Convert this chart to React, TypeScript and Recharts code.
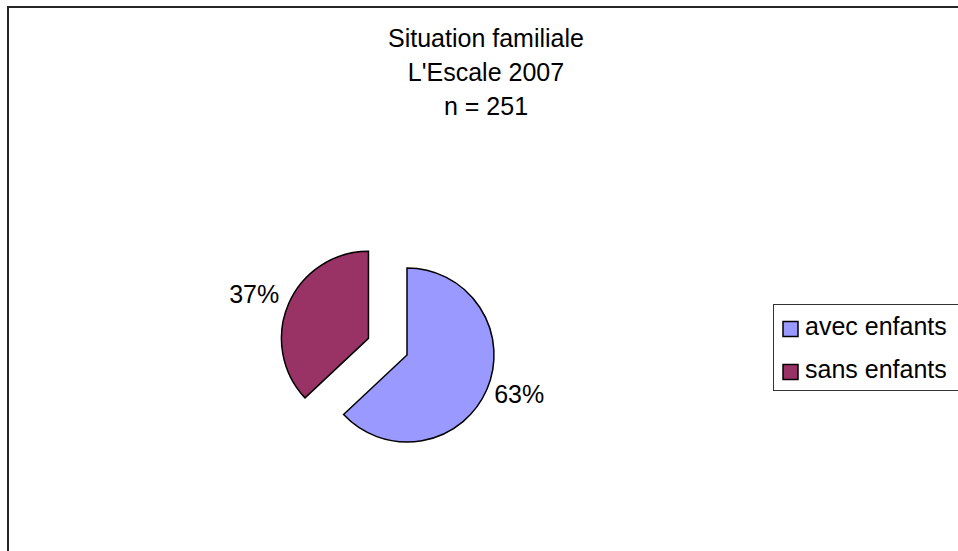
import React from "react";
import { PieChart, Pie, Cell, Legend, Customized } from "recharts";

const categories = ["avec enfants", "sans enfants"];
const values = [63, 37];
const colors = ["#9999FF", "#993366"];
const titleLines = ["Situation familiale", "L'Escale 2007", "n = 251"];

const data = categories.map((name, i) => ({ name, value: values[i] }));

const W = 958;
const H = 551;
const CX = 407;
const CY = 355;
const R = 87;
const EXPLODE = 42;
const FONT = "'Liberation Sans', Arial, sans-serif";
const RADIAN = Math.PI / 180;
const LABEL_NUDGE_Y = [1, -7];
const LABEL_NUDGE_X = [0, -2];

// explosion offset of the second slice along its bisector
const total = values.reduce((a, b) => a + b, 0);
const startSecond = 90 - (360 * values[0]) / total;
const midSecond = startSecond - (360 * values[1]) / total / 2;
const CX2 = CX + EXPLODE * Math.cos(midSecond * RADIAN);
const CY2 = CY - EXPLODE * Math.sin(midSecond * RADIAN);

const makeLabel = (visibleIndex: number) => (props: any) => {
  const { cx, cy, midAngle, outerRadius, percent, index } = props;
  if (index !== visibleIndex) return null;
  const rr = outerRadius + 8;
  const x = cx + rr * Math.cos(-midAngle * RADIAN);
  const y = cy + rr * Math.sin(-midAngle * RADIAN);
  return (
    <text
      x={x + LABEL_NUDGE_X[index]}
      y={y + LABEL_NUDGE_Y[index]}
      textAnchor={x > cx ? "start" : "end"}
      dominantBaseline="central"
      fontFamily={FONT}
      fontSize={25}
      fill="#000"
    >
      {`${Math.round(percent * 100)}%`}
    </text>
  );
};

const Frame = () => (
  <g>
    <rect x={8} y={7} width={2000} height={2000} fill="none" stroke="#262626" strokeWidth={2} />
    {titleLines.map((t, i) => (
      <text
        key={i}
        x={486}
        y={47 + i * 34}
        textAnchor="middle"
        fontFamily={FONT}
        fontSize={25}
        fill="#000"
      >
        {t}
      </text>
    ))}
  </g>
);

const LegendBox = () => (
  <svg width={260} height={90} style={{ display: "block" }}>
    <rect x={0.5} y={0.5} width={300} height={86} fill="#fff" stroke="#333" strokeWidth={1} />
    {categories.map((c, i) => (
      <g key={c}>
        <rect x={10} y={17.5 + i * 43} width={15} height={15} fill={colors[i]} stroke="#000" strokeWidth={1.5} />
        <text x={32} y={31 + i * 43} fontFamily={FONT} fontSize={25} fill="#000">
          {c}
        </text>
      </g>
    ))}
  </svg>
);

export default function App() {
  return (
    <div style={{ position: "absolute", left: 0, top: 0, width: W, height: H, overflow: "hidden", background: "#fff" }}>
      <PieChart width={W} height={H} margin={{ top: 0, right: 0, bottom: 0, left: 0 }}>
        <Customized component={Frame} />
        <Pie
          data={data}
          dataKey="value"
          nameKey="name"
          cx={CX}
          cy={CY}
          outerRadius={R}
          startAngle={90}
          endAngle={-270}
          isAnimationActive={false}
          legendType="none"
          labelLine={false}
          label={makeLabel(0)}
        >
          {data.map((d, i) => (
            <Cell
              key={d.name}
              fill={i === 0 ? colors[0] : "none"}
              stroke={i === 0 ? "#000" : "none"}
              strokeWidth={1.5}
            />
          ))}
        </Pie>
        <Pie
          data={data}
          dataKey="value"
          nameKey="name"
          cx={CX2}
          cy={CY2}
          outerRadius={R}
          startAngle={90}
          endAngle={-270}
          isAnimationActive={false}
          legendType="none"
          labelLine={false}
          label={makeLabel(1)}
        >
          {data.map((d, i) => (
            <Cell
              key={d.name}
              fill={i === 1 ? colors[1] : "none"}
              stroke={i === 1 ? "#000" : "none"}
              strokeWidth={1.5}
            />
          ))}
        </Pie>
        <Legend
          content={() => <LegendBox />}
          wrapperStyle={{ position: "absolute", left: 773, top: 304, right: "auto", bottom: "auto", width: 260, height: 90 }}
        />
      </PieChart>
    </div>
  );
}
